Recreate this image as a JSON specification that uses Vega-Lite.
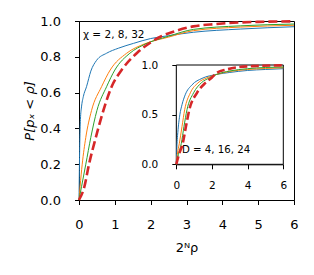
{
  "$schema": "https://vega.github.io/schema/vega-lite/v6.json",
  "width": 215,
  "height": 179,
  "autosize": "none",
  "padding": {"left": 79, "top": 21, "right": 20, "bottom": 75},
  "background": "white",
  "config": {
    "font": "DejaVu Sans",
    "view": {"stroke": "black", "strokeWidth": 1},
    "axis": {"grid": false, "domainColor": "black", "tickColor": "black", "labelColor": "black", "titleColor": "black", "titleFontWeight": "normal", "tickSize": 4.5}
  },
  "datasets": {
    "main": [
      {"s": "a", "x": 0, "v": 0}, {"s": "a", "x": 0.02, "v": 0.3}, {"s": "a", "x": 0.04, "v": 0.45}, {"s": "a", "x": 0.07, "v": 0.52}, {"s": "a", "x": 0.12, "v": 0.577}, {"s": "a", "x": 0.21, "v": 0.633}, {"s": "a", "x": 0.33, "v": 0.72}, {"s": "a", "x": 0.49, "v": 0.78}, {"s": "a", "x": 0.77, "v": 0.82}, {"s": "a", "x": 1.1, "v": 0.848}, {"s": "a", "x": 1.52, "v": 0.875}, {"s": "a", "x": 2.0, "v": 0.902}, {"s": "a", "x": 2.5, "v": 0.918}, {"s": "a", "x": 3.19, "v": 0.937}, {"s": "a", "x": 4.5, "v": 0.955}, {"s": "a", "x": 6, "v": 0.968},
      {"s": "b", "x": 0, "v": 0}, {"s": "b", "x": 0.03, "v": 0.074}, {"s": "b", "x": 0.09, "v": 0.2}, {"s": "b", "x": 0.19, "v": 0.35}, {"s": "b", "x": 0.35, "v": 0.5}, {"s": "b", "x": 0.63, "v": 0.633}, {"s": "b", "x": 0.87, "v": 0.726}, {"s": "b", "x": 1.33, "v": 0.82}, {"s": "b", "x": 1.84, "v": 0.873}, {"s": "b", "x": 2.5, "v": 0.91}, {"s": "b", "x": 3.19, "v": 0.946}, {"s": "b", "x": 4.5, "v": 0.966}, {"s": "b", "x": 6, "v": 0.976},
      {"s": "c", "x": 0, "v": 0}, {"s": "c", "x": 0.07, "v": 0.074}, {"s": "c", "x": 0.19, "v": 0.2}, {"s": "c", "x": 0.33, "v": 0.35}, {"s": "c", "x": 0.5, "v": 0.5}, {"s": "c", "x": 0.77, "v": 0.633}, {"s": "c", "x": 1.0, "v": 0.726}, {"s": "c", "x": 1.42, "v": 0.82}, {"s": "c", "x": 1.84, "v": 0.87}, {"s": "c", "x": 2.5, "v": 0.915}, {"s": "c", "x": 3.19, "v": 0.953}, {"s": "c", "x": 4.5, "v": 0.973}, {"s": "c", "x": 6, "v": 0.983},
      {"s": "d", "x": 0, "v": 0}, {"s": "d", "x": 0.15, "v": 0.074}, {"s": "d", "x": 0.28, "v": 0.2}, {"s": "d", "x": 0.47, "v": 0.35}, {"s": "d", "x": 0.68, "v": 0.5}, {"s": "d", "x": 0.91, "v": 0.633}, {"s": "d", "x": 1.19, "v": 0.726}, {"s": "d", "x": 1.61, "v": 0.82}, {"s": "d", "x": 2.0, "v": 0.88}, {"s": "d", "x": 2.3, "v": 0.915}, {"s": "d", "x": 2.63, "v": 0.94}, {"s": "d", "x": 3.19, "v": 0.97}, {"s": "d", "x": 3.84, "v": 0.983}, {"s": "d", "x": 4.3, "v": 0.99}, {"s": "d", "x": 5, "v": 0.995}, {"s": "d", "x": 6, "v": 0.998}
    ],
    "inset": [
      {"s": "a", "x": 0, "v": 0}, {"s": "a", "x": 0.04, "v": 0.2}, {"s": "a", "x": 0.1, "v": 0.35}, {"s": "a", "x": 0.2, "v": 0.5}, {"s": "a", "x": 0.32, "v": 0.6}, {"s": "a", "x": 0.5, "v": 0.7}, {"s": "a", "x": 0.88, "v": 0.8}, {"s": "a", "x": 1.44, "v": 0.865}, {"s": "a", "x": 2.26, "v": 0.905}, {"s": "a", "x": 3, "v": 0.925}, {"s": "a", "x": 4, "v": 0.945}, {"s": "a", "x": 5, "v": 0.955}, {"s": "a", "x": 6, "v": 0.963},
      {"s": "b", "x": 0, "v": 0}, {"s": "b", "x": 0.06, "v": 0.1}, {"s": "b", "x": 0.17, "v": 0.21}, {"s": "b", "x": 0.32, "v": 0.38}, {"s": "b", "x": 0.47, "v": 0.55}, {"s": "b", "x": 0.79, "v": 0.72}, {"s": "b", "x": 1.22, "v": 0.82}, {"s": "b", "x": 1.7, "v": 0.87}, {"s": "b", "x": 2.26, "v": 0.905}, {"s": "b", "x": 3, "v": 0.935}, {"s": "b", "x": 4, "v": 0.955}, {"s": "b", "x": 5, "v": 0.965}, {"s": "b", "x": 6, "v": 0.972},
      {"s": "c", "x": 0, "v": 0}, {"s": "c", "x": 0.12, "v": 0.1}, {"s": "c", "x": 0.28, "v": 0.21}, {"s": "c", "x": 0.43, "v": 0.38}, {"s": "c", "x": 0.6, "v": 0.55}, {"s": "c", "x": 0.97, "v": 0.72}, {"s": "c", "x": 1.4, "v": 0.82}, {"s": "c", "x": 1.85, "v": 0.87}, {"s": "c", "x": 2.26, "v": 0.905}, {"s": "c", "x": 3, "v": 0.94}, {"s": "c", "x": 4, "v": 0.963}, {"s": "c", "x": 5, "v": 0.975}, {"s": "c", "x": 6, "v": 0.98},
      {"s": "d", "x": 0, "v": 0}, {"s": "d", "x": 0.15, "v": 0.1}, {"s": "d", "x": 0.36, "v": 0.21}, {"s": "d", "x": 0.54, "v": 0.38}, {"s": "d", "x": 0.73, "v": 0.55}, {"s": "d", "x": 1.16, "v": 0.72}, {"s": "d", "x": 1.63, "v": 0.82}, {"s": "d", "x": 2.0, "v": 0.875}, {"s": "d", "x": 2.27, "v": 0.92}, {"s": "d", "x": 2.83, "v": 0.955}, {"s": "d", "x": 3.48, "v": 0.978}, {"s": "d", "x": 4.5, "v": 0.99}, {"s": "d", "x": 6, "v": 0.997}
    ],
    "frame": [{"x0": 0, "x1": 6, "y0": 0, "y1": 1}],
    "labels": [
      {"panel": "main", "x": 0.11, "v": 0.92, "t": "χ = 2, 8, 32"},
      {"panel": "inset", "x": 0.32, "v": 0.145, "t": "D = 4, 16, 24"}
    ]
  },
  "layer": [
    {
      "data": {"name": "main"},
      "transform": [{"filter": "datum.s !== 'd'"}],
      "mark": {"type": "line", "strokeWidth": 1, "interpolate": "monotone"},
      "encoding": {
        "x": {"field": "x", "type": "quantitative", "scale": {"domain": [0, 6], "nice": false},
              "axis": {"orient": "bottom", "values": [0, 1, 2, 3, 4, 5, 6], "format": "d", "labelOverlap": false, "labelFlush": false, "labelFontSize": 13, "labelPadding": 14, "title": "2ᴺρ", "titleFontSize": 13, "titlePadding": 10}},
        "y": {"field": "v", "type": "quantitative", "scale": {"domain": [0, 1], "nice": false, "zero": false},
              "axis": {"orient": "left", "values": [0, 0.2, 0.4, 0.6, 0.8, 1.0], "format": ".1f", "labelOverlap": false, "labelFlush": false, "labelFontSize": 13, "labelPadding": 14, "title": "P[pₓ < ρ]", "titleFontSize": 13, "titleFontStyle": "italic", "titlePadding": 3}},
        "color": {"field": "s", "type": "nominal", "scale": {"domain": ["a", "b", "c"], "range": ["#1f77b4", "#ff7f0e", "#2ca02c"]}, "legend": null}
      }
    },
    {
      "data": {"name": "main"},
      "transform": [{"filter": "datum.s === 'd'"}],
      "mark": {"type": "line", "strokeWidth": 2.6, "color": "#d62728", "strokeDash": [9, 4], "interpolate": "monotone"},
      "encoding": {
        "x": {"field": "x", "type": "quantitative", "scale": {"domain": [0, 6], "nice": false}, "axis": null},
        "y": {"field": "v", "type": "quantitative", "scale": {"domain": [0, 1], "nice": false, "zero": false}, "axis": null}
      }
    },
    {
      "data": {"name": "labels"},
      "transform": [{"filter": "datum.panel === 'main'"}],
      "mark": {"type": "text", "align": "left", "baseline": "middle", "fontSize": 10.5, "color": "black", "font": "DejaVu Sans"},
      "encoding": {
        "x": {"field": "x", "type": "quantitative", "scale": {"domain": [0, 6], "nice": false}, "axis": null},
        "y": {"field": "v", "type": "quantitative", "scale": {"domain": [0, 1], "nice": false, "zero": false}, "axis": null},
        "text": {"field": "t"}
      }
    },
    {
      "layer": [
        {
          "data": {"name": "frame"},
          "mark": {"type": "rect", "fill": "white", "stroke": "black", "strokeWidth": 1},
          "encoding": {
            "x": {"field": "x0", "type": "quantitative", "scale": {"domain": [0, 6], "nice": false, "range": [97.3, 204.3]},
                  "axis": {"orient": "bottom", "offset": -35.7, "values": [0, 2, 4, 6], "format": "d", "labelOverlap": false, "labelFlush": false, "labelFontSize": 10.5, "labelPadding": 12, "title": null}},
            "x2": {"field": "x1"},
            "y": {"field": "y0", "type": "quantitative", "scale": {"domain": [0, 1], "nice": false, "zero": false, "range": [143.3, 44]},
                  "axis": {"orient": "left", "offset": -97.3, "values": [0, 0.5, 1], "format": ".1f", "labelOverlap": false, "labelFlush": false, "labelFontSize": 10.5, "labelPadding": 14, "title": null}},
            "y2": {"field": "y1"}
          }
        },
        {
          "data": {"name": "inset"},
          "transform": [{"filter": "datum.s !== 'd'"}],
          "mark": {"type": "line", "strokeWidth": 1, "interpolate": "monotone"},
          "encoding": {
            "x": {"field": "x", "type": "quantitative"},
            "y": {"field": "v", "type": "quantitative"},
            "color": {"field": "s", "type": "nominal", "scale": {"domain": ["a", "b", "c"], "range": ["#1f77b4", "#ff7f0e", "#2ca02c"]}, "legend": null}
          }
        },
        {
          "data": {"name": "inset"},
          "transform": [{"filter": "datum.s === 'd'"}],
          "mark": {"type": "line", "strokeWidth": 2.6, "color": "#d62728", "strokeDash": [8, 3.5], "interpolate": "monotone"},
          "encoding": {
            "x": {"field": "x", "type": "quantitative"},
            "y": {"field": "v", "type": "quantitative"}
          }
        },
        {
          "data": {"name": "labels"},
          "transform": [{"filter": "datum.panel === 'inset'"}],
          "mark": {"type": "text", "align": "left", "baseline": "middle", "fontSize": 10.2, "color": "black", "font": "DejaVu Sans"},
          "encoding": {
            "x": {"field": "x", "type": "quantitative"},
            "y": {"field": "v", "type": "quantitative"},
            "text": {"field": "t"}
          }
        }
      ]
    }
  ],
  "resolve": {
    "scale": {"x": "independent", "y": "independent"},
    "axis": {"x": "independent", "y": "independent"}
  }
}
